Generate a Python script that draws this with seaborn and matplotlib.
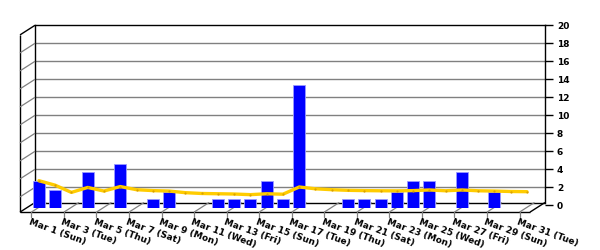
import matplotlib
matplotlib.use("Agg")
import matplotlib.pyplot as plt
import seaborn as sns
import pandas as pd
from matplotlib.transforms import offset_copy

# ---------------- data ----------------
days = list(range(1, 32))
tick_days = list(range(1, 32, 2))
tick_labels = ["Mar 1 (Sun)", "Mar 3 (Tue)", "Mar 5 (Thu)", "Mar 7 (Sat)",
               "Mar 9 (Mon)", "Mar 11 (Wed)", "Mar 13 (Fri)", "Mar 15 (Sun)",
               "Mar 17 (Tue)", "Mar 19 (Thu)", "Mar 21 (Sat)", "Mar 23 (Mon)",
               "Mar 25 (Wed)", "Mar 27 (Fri)", "Mar 29 (Sun)", "Mar 31 (Tue)"]
bar_days = [1, 2, 4, 6, 8, 9, 12, 13, 14, 15, 16, 17, 20, 21, 22, 23, 24, 25, 27, 29]
bar_values = [3, 2, 4, 4.85, 1, 1.75, 1, 1, 1, 3, 1, 13.6, 1, 1, 1, 1.75, 3, 3, 4, 1.7]
avg_values = [3.0, 2.5, 1.7, 2.25, 1.85, 2.35, 2.0, 1.9, 1.85, 1.67, 1.58, 1.55,
              1.52, 1.45, 1.55, 1.5, 2.3, 2.1, 2.0, 1.93, 1.9, 1.88, 1.87, 1.9,
              1.97, 1.88, 1.97, 1.88, 1.85, 1.8, 1.78]
y_ticks = list(range(0, 21, 2))

# ---------------- style ----------------
sns.set_style("white")
plt.rcParams['font.family'] = ['DejaVu Sans']

W, H = 600, 250
fig = plt.figure(figsize=(6, 2.5), dpi=100)
fig.patch.set_facecolor("white")

XLIM = (0.30, 31.645)
YLIM = (0, 20)
FLOOR = 0.31          # floor level on the back wall
DX, DY = -15, -9.6    # depth offset back -> front, in pixels

# back wall axes
ax_back = fig.add_axes([35 / W, (H - 205.3) / H, 510 / W, 180 / H])
# middle plane axes (bars + line)
ax = fig.add_axes([27.5 / W, (H - 207.7) / H, 510 / W, 180 / H])

for a in (ax_back, ax):
    a.set_xlim(*XLIM)
    a.set_ylim(*YLIM)

ax_back.set_zorder(1)
ax.set_zorder(2)
ax.patch.set_visible(False)

# ---- back wall ----
ax_back.set_facecolor("white")
for s in ("top", "left", "right"):
    ax_back.spines[s].set_color("black")
    ax_back.spines[s].set_linewidth(1.0)
ax_back.spines["bottom"].set_visible(False)
ax_back.spines["left"].set_bounds(FLOOR, 20)
ax_back.spines["right"].set_bounds(FLOOR, 20)
for v in y_ticks[1:-1]:
    ax_back.axhline(v, color="#808080", lw=1.0, zorder=0)

ax_back.set_xticks([])
ax_back.yaxis.tick_right()
ax_back.set_yticks(y_ticks)
ax_back.set_yticklabels([str(v) for v in y_ticks])
ax_back.tick_params(axis="y", which="major", right=True, left=False,
                    length=5.5, width=1.0, pad=3, labelsize=6.5,
                    color="black", labelcolor="black")
for t in ax_back.get_yticklabels():
    t.set_fontweight("bold")

front = offset_copy(ax_back.transData, fig=fig, x=DX, y=DY, units="dots")
back = ax_back.transData
x0, x1 = XLIM

def seg(p_trans, p, q_trans, q, color, lw):
    # segment between a point in one plane and a point in another (display coords)
    a = p_trans.transform(p)
    b = q_trans.transform(q)
    ln = plt.Line2D([a[0], b[0]], [a[1], b[1]], transform=None,
                    color=color, lw=lw, solid_capstyle="butt")
    fig.add_artist(ln)

# floor
seg(back, (x0, FLOOR), back, (x1, FLOOR), "black", 1.0)
seg(front, (x0, FLOOR), front, (x1, FLOOR), "black", 1.0)
seg(front, (x1, FLOOR), back, (x1, FLOOR), "black", 1.0)
seg(front, (x0, FLOOR), back, (x0, FLOOR), "black", 1.0)
for d in tick_days:
    seg(front, (d, FLOOR), back, (d, FLOOR), "#808080", 0.9)
    p = front.transform((d, FLOOR))
    fig.add_artist(plt.Line2D([p[0], p[0]], [p[1], p[1] - 5], transform=None,
                              color="#808080", lw=0.9))

# left wall
seg(front, (x0, FLOOR), front, (x0, 20), "black", 1.0)
seg(front, (x0, 20), back, (x0, 20), "black", 1.0)
for v in y_ticks[1:-1]:
    seg(front, (x0, v), back, (x0, v), "#808080", 0.9)

# x labels
lab_tr = offset_copy(ax_back.transData, fig=fig, x=DX - 1, y=DY - 5.5, units="dots")
for d, lab in zip(tick_days, tick_labels):
    ax_back.text(d, FLOOR, lab, transform=lab_tr, rotation=-20,
                 rotation_mode="anchor", ha="left", va="top",
                 fontsize=6.5, fontweight="bold", color="black", clip_on=False)

# ---- bars and line on middle plane ----
df_bars = pd.DataFrame({"day": bar_days, "value": bar_values})
sns.barplot(data=df_bars, x="day", y="value", native_scale=True, width=0.74,
            color="#0000ff", saturation=1, edgecolor="#9a9aff", linewidth=0.6,
            ax=ax)
df_line = pd.DataFrame({"day": days, "avg": avg_values})
sns.lineplot(data=df_line, x="day", y="avg", color="#ffcc00", lw=2.4, ax=ax,
             marker="o", markersize=1.6, markerfacecolor="#d9a000",
             markeredgewidth=0)
ax.set_xlim(*XLIM)
ax.set_ylim(*YLIM)
ax.axis("off")

fig.savefig("out.png", dpi=100, facecolor="white")
